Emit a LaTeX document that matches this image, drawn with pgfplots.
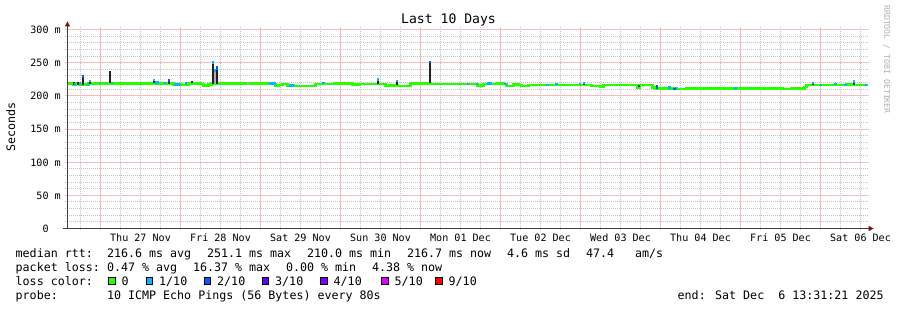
\documentclass[border=0pt]{standalone}
\usepackage{fontspec}
\setmainfont{DejaVu Sans Mono}
\usepackage{pgfplots}
\pgfplotsset{compat=1.18}
\definecolor{majgridcol}{RGB}{247,188,188}
\definecolor{mingridcol}{RGB}{195,195,195}
\definecolor{l0}{HTML}{26FF00}
\definecolor{l1}{HTML}{00B8FF}
\definecolor{l2}{HTML}{0059FF}
\definecolor{l3}{HTML}{5E00FF}
\definecolor{l4}{HTML}{7E00FF}
\definecolor{l5}{HTML}{DD00FF}
\definecolor{l9}{HTML}{FF0000}
\definecolor{smoke}{HTML}{222222}
\definecolor{lsmoke}{HTML}{B0B0B0}
\definecolor{axiscol}{HTML}{404040}
\definecolor{arrowcol}{HTML}{801010}
\newcommand\legfont{\fontsize{11.66pt}{14pt}\selectfont}
\newcommand\axfont{\fontsize{10.1pt}{12pt}\selectfont}
\newcommand\titlefont{\fontsize{13.1pt}{16pt}\selectfont}
\newcommand\wmfont{\fontsize{8.2pt}{10pt}\selectfont}
\begin{document}
\begin{tikzpicture}[x=1pt,y=1pt]
\useasboundingbox (0,0) rectangle (897,310);
\tikzset{mingl/.style={draw=mingridcol, line width=1pt, dash pattern=on 1pt off 1pt},
         majgl/.style={draw=majgridcol, line width=1pt}}
% grid (behind the plot)
\foreach \v in {10,20,30,40,60,70,80,90,110,120,130,140,160,170,180,190,210,220,230,240,260,270,280,290} {
  \pgfmathsetmacro\yy{309.5-round(228-0.66333*\v)}
  \draw[mingl] (65,\yy) -- (869,\yy);
}
\foreach \px in {80.5,120.5,140.5,160.5,200.5,220.5,240.5,280.5,300.5,320.5,360.5,380.5,400.5,440.5,460.5,480.5,520.5,540.5,560.5,600.5,620.5,640.5,680.5,700.5,720.5,760.5,780.5,800.5,840.5,860.5} {
  \draw[mingl] (\px,79.5) -- (\px,282.5);
}
\foreach \v in {50,100,150,200,250,300} {
  \pgfmathsetmacro\yy{309.5-round(228-0.66333*\v)}
  \draw[majgl] (65,\yy) -- (869,\yy);
}
\foreach \px in {100.5,180.5,260.5,340.5,420.5,500.5,580.5,660.5,740.5,820.5} {
  \draw[majgl] (\px,79.5) -- (\px,282.5);
}
\begin{axis}[
  at={(67.5pt,81.5pt)}, anchor=south west,
  scale only axis, width=800pt, height=199pt,
  xmin=-9.9, xmax=230.1, ymin=0, ymax=300,
  axis line style={draw=none},
  major tick length=0pt, minor tick length=0pt,
  xtick={12,36,60,84,108,132,156,180,204,228},
  xticklabels={Thu 27 Nov,Fri 28 Nov,Sat 29 Nov,Sun 30 Nov,Mon 01 Dec,Tue 02 Dec,Wed 03 Dec,Thu 04 Dec,Fri 05 Dec,Sat 06 Dec},
  ytick={0,50,100,150,200,250,300},
  yticklabels={0\phantom{\ m},50 m,100 m,150 m,200 m,250 m,300 m},
  xticklabel style={font=\axfont, anchor=base, inner sep=0pt, yshift=-13pt},
  yticklabel style={font=\axfont, anchor=base east, inner sep=0pt, xshift=-6.5pt, yshift=-4pt},
  unbounded coords=jump,
]
% median rtt, loss 0
\addplot[const plot, l0, line width=2.6pt] coordinates {
(-9.9,219) (-8.1,217) (-7.5,218.6) (-6.3,217.5) (-5.1,216.6) (-4.2,217.5) (-3.6,219)
(21.9,217.5) (24.3,216.6) (26.4,219) (30,218.1) (30.9,216) (32.4,217.5) (33.3,218.5)
(48.9,219) (50.4,218) (52.5,215) (53.4,216.5) (54.6,218) (56.1,215.5) (57.9,214.6)
(64.5,218) (70.2,218.6) (75.6,217.1) (77.7,217.6) (85.5,216) (89.1,214.6) (93,218.6)
(99,217.6) (113.1,216) (114.9,217.6) (118.8,219) (120.9,217.6) (121.8,215) (123.9,217.1)
(125.4,216.5) (126.3,215) (128.4,216.6) (147.3,215) (150,214.5) (150.9,216.1) (161.1,213)
(161.7,216.1) (165.6,213) (166.5,211) (170.1,212) (171,211) (172.8,210.2) (175.8,211)
(190.8,210.6) (204.6,210.1) (207.3,210.6) (211.2,213.6) (211.8,216.2) (223.8,216.8)
(225.6,216.4) (230.1,216.7)};
% smoke (light)
\addplot[lsmoke, line width=2pt] coordinates {
(34.2,218.5) (34.2,236) (34.2,nan)
(44.2,217) (44.2,221) (44.2,nan)};
% smoke (dark)
\addplot[smoke, line width=2pt] coordinates {
(-7.95,217) (-7.95,221.5) (-7.95,nan)
(-6.9,217) (-6.9,220.5) (-6.9,nan)
(-5.4,216.6) (-5.4,230.6) (-5.4,nan)
(-3.3,218) (-3.3,224) (-3.3,nan)
(2.7,219) (2.7,238) (2.7,nan)
(15.9,219) (15.9,225.6) (15.9,nan)
(20.4,218) (20.4,224.6) (20.4,nan)
(27.3,219) (27.3,222.6) (27.3,nan)
(33.6,218.5) (33.6,251.8) (33.6,nan)
(34.8,218.5) (34.8,244) (34.8,nan)
(83.25,217.6) (83.25,226.6) (83.25,nan)
(88.95,216) (88.95,224) (88.95,nan)
(98.7,218.6) (98.7,251.8) (98.7,nan)
(145.05,216.6) (145.05,221) (145.05,nan)
(161.4,213) (161.4,216) (161.4,nan)
(213.75,216) (213.75,220.6) (213.75,nan)
(225.9,216.5) (225.9,223)};
% loss 1/10
\addplot[l1, line width=2.6pt] coordinates {
(-8.1,216.8) (-7.5,216.8) (-7.5,nan)
(-6.6,218.5) (-6.0,218.5) (-6.0,nan)
(-4.2,217) (-3.6,217) (-3.6,nan)
(-0.6,219.5) (-0.15,219.5) (-0.15,nan)
(3.0,219.5) (3.6,219.5) (3.6,nan)
(16.2,220) (17.4,220) (17.4,nan)
(18.9,219.5) (19.5,219.5) (19.5,nan)
(21.9,217) (23.7,217) (23.7,nan)
(25.2,218.5) (25.8,218.5) (25.8,nan)
(50.4,218.5) (52.5,218.5) (52.5,nan)
(56.4,216) (57.9,216) (57.9,nan)
(66.3,219.5) (67.2,219.5) (67.2,nan)
(109.8,217.6) (110.4,217.6) (110.4,nan)
(112.5,217.6) (113.1,217.6) (113.1,nan)
(115.8,219) (117.3,219) (117.3,nan)
(120.9,217.6) (121.8,217.6) (121.8,nan)
(133.5,216.6) (134.4,216.6) (134.4,nan)
(136.2,217.6) (137.1,217.6) (137.1,nan)
(143.4,218) (144.0,218) (144.0,nan)
(170.1,212.5) (171.0,212.5) (171.0,nan)
(172.2,211.5) (172.8,211.5) (172.8,nan)
(189.9,211) (190.8,211) (190.8,nan)
(215.7,216.2) (216.3,216.2) (216.3,nan)
(219.9,217.6) (220.8,217.6) (220.8,nan)
(222.9,216.2) (223.8,216.2) (223.8,nan)
(229.2,216.5) (230.1,216.5)};
% loss 1/10 at smoke tops
\addplot[l1, line width=2pt] coordinates {
(-3.3,221) (-3.3,224.5) (-3.3,nan)
(15.9,222.5) (15.9,226) (15.9,nan)
(33.6,248.5) (33.6,252) (33.6,nan)
(34.2,236) (34.2,241) (34.2,nan)
(83.25,222) (83.25,227) (83.25,nan)
(88.95,221) (88.95,224) (88.95,nan)
(145.05,218.5) (145.05,221.5) (145.05,nan)
(213.75,218) (213.75,221) (213.75,nan)
(225.9,219.5) (225.9,223.5)};
% loss 2/10
\addplot[l2, line width=2pt] coordinates {
(-5.4,227.5) (-5.4,231) (-5.4,nan)
(20.4,221) (20.4,225) (20.4,nan)
(34.8,239) (34.8,245) (34.8,nan)
(98.7,249) (98.7,252) (98.7,nan)
(166.8,211) (166.8,216.5) (166.8,nan)
(171.6,210.5) (172.5,210.5)};
\end{axis}
% axes
\draw[axiscol, line width=1pt] (63,81.5) -- (869,81.5);
\draw[axiscol, line width=1pt] (67.5,81.5) -- (67.5,284);
\fill[arrowcol] (67.5,288.5) -- (64.8,283.5) -- (70.2,283.5) -- cycle;
\fill[arrowcol] (873.5,81.5) -- (868.5,84.2) -- (868.5,78.8) -- cycle;
% title and labels
\node[font=\titlefont, anchor=base, inner sep=0pt] at (448.5,286) {Last 10 Days};
\node[font=\legfont, rotate=90, anchor=base, inner sep=0pt] at (15,183) {Seconds};
\node[font=\wmfont, text=lsmoke, rotate=-90, anchor=base west, inner sep=0pt] at (884,305) {RRDTOOL / TOBI OETIKER};
% legend
\tikzset{leg/.style={anchor=base west, inner sep=0pt, font=\legfont}}
\node[leg] at (15.5,52.5) {median rtt:};
\node[leg] at (106.8,52.5) {216.6 ms avg};
\node[leg] at (206.8,52.5) {251.1 ms max};
\node[leg] at (306.8,52.5) {210.0 ms min};
\node[leg] at (406.8,52.5) {216.7 ms now};
\node[leg] at (506.8,52.5) {4.6 ms sd};
\node[leg] at (585.8,52.5) {47.4\ \ \ am/s};
\node[leg] at (15.5,38.5) {packet loss:};
\node[leg] at (106.8,38.5) {0.47 \% avg};
\node[leg] at (192.8,38.5) {16.37 \% max};
\node[leg] at (285.8,38.5) {0.00 \% min};
\node[leg] at (371.8,38.5) {4.38 \% now};
\node[leg] at (15.5,24.7) {loss color:};
\foreach \bx/\col/\txt in {108/l0/0, 145.5/l1/1\slash 10, 203.5/l2/2\slash 10, 261.5/l3/3\slash 10, 320/l4/4\slash 10, 381/l5/5\slash 10, 435/l9/9\slash 10}{
  \filldraw[fill=\col, draw=black, line width=1pt] (\bx+0.5,25.8) rectangle +(6.6,6.6);
  \node[leg] at (\bx+13.5,24.7) {\txt};
}
\node[leg] at (15.5,10.7) {probe:};
\node[leg] at (106.8,10.7) {10 ICMP Echo Pings (56 Bytes) every 80s};
\node[leg] at (677.5,10.7) {end: Sat Dec\ \ 6 13:31:21 2025};
\end{tikzpicture}
\end{document}
